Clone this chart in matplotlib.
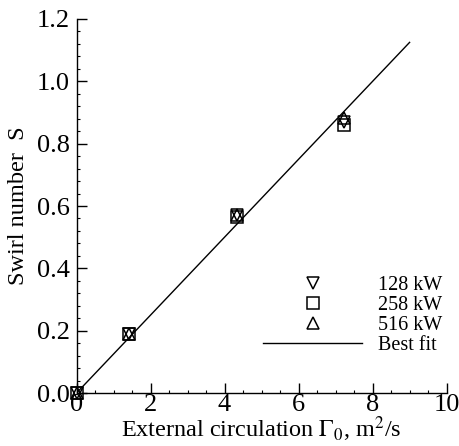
import matplotlib
matplotlib.use("Agg")
import matplotlib.pyplot as plt
from matplotlib.ticker import MultipleLocator, FormatStrFormatter

plt.rcParams['font.family'] = ['Liberation Serif', 'DejaVu Serif']
plt.rcParams['mathtext.fontset'] = 'stix'

# Data
gamma = [0.0, 1.43, 4.34, 7.22]
s_128 = [0.0, 0.190, 0.570, 0.870]
s_258 = [0.0, 0.188, 0.565, 0.860]
s_516 = [0.0, 0.190, 0.572, 0.882]
fit_x = [0.0, 9.0]
fit_y = [0.0, 1.125]
labels = ['128 kW', '258 kW', '516 kW', 'Best fit']

fig = plt.figure(figsize=(4.59, 4.46), dpi=100)
ax = fig.add_axes([0.1667, 0.1188, 0.8063, 0.8386])

mk = dict(linestyle='none', markerfacecolor='none', markeredgecolor='black',
          markeredgewidth=1.1, markersize=9, clip_on=False, zorder=3)
h1, = ax.plot(gamma, s_128, marker='v', **mk)
h2, = ax.plot(gamma, s_258, marker='s', **mk)
h3, = ax.plot(gamma, s_516, marker='^', **mk)
h4, = ax.plot(fit_x, fit_y, color='black', linewidth=1.0)

ax.set_xlim(0, 10)
ax.set_ylim(0, 1.2)
ax.xaxis.set_major_locator(MultipleLocator(2))
ax.xaxis.set_minor_locator(MultipleLocator(0.5))
ax.yaxis.set_major_locator(MultipleLocator(0.2))
ax.yaxis.set_minor_locator(MultipleLocator(0.04))
ax.yaxis.set_major_formatter(FormatStrFormatter('%.1f'))
ax.xaxis.set_major_formatter(FormatStrFormatter('%d'))

for side in ('top', 'right'):
    ax.spines[side].set_visible(False)
for side in ('left', 'bottom'):
    ax.spines[side].set_linewidth(1.0)

ax.tick_params(which='major', direction='in', length=7, width=1.0, labelsize=19)
ax.tick_params(which='minor', direction='in', length=2.5, width=0.8)
ax.tick_params(axis='x', which='major', pad=0.5)
ax.tick_params(axis='y', which='major', pad=5)

ax.set_xlabel(r'External circulation $\Gamma_0$, m$^2$/s', fontsize=17.5)
ax.set_ylabel('Swirl number  S', fontsize=17.5)
ax.xaxis.label.set_va('baseline')
ax.xaxis.set_label_coords(0.5, -0.117)
ax.yaxis.label.set_va('center')
ax.yaxis.label.set_ha('center')
ax.yaxis.set_label_coords(-0.158, 0.5)

leg = ax.legend([h1, h2, h3, h4], labels, loc='lower right',
                bbox_to_anchor=(1.01, 0.08), frameon=False, fontsize=14.5,
                handlelength=4.9, handletextpad=0.8, labelspacing=0.05,
                borderaxespad=0.0)

fig.savefig('out.png', dpi=100)
